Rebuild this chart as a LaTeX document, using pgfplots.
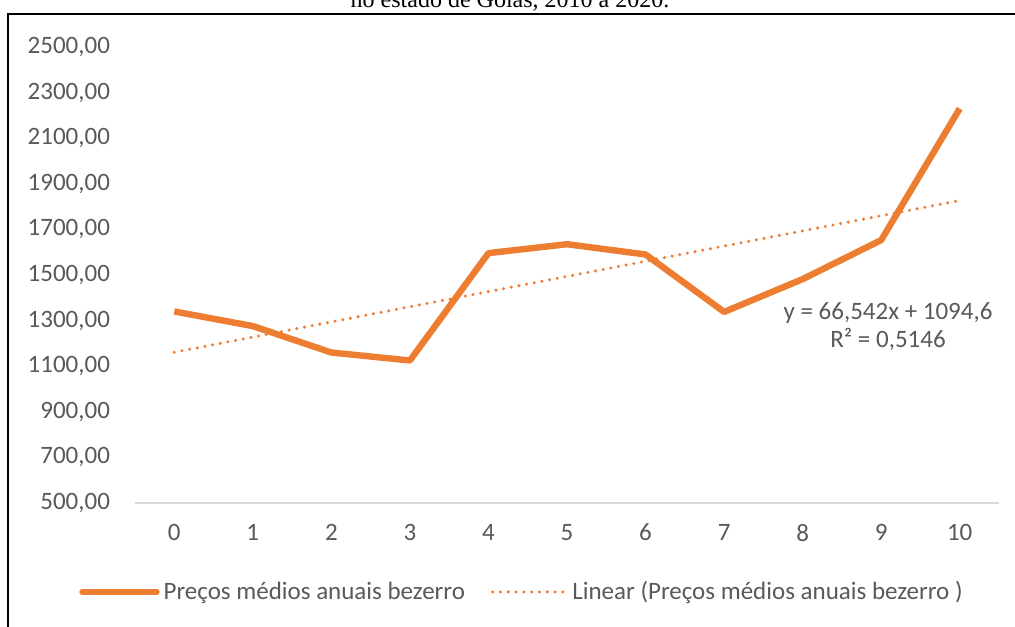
\documentclass[border=0pt]{standalone}
\usepackage{fontspec}
\setmainfont{Carlito}
\newfontfamily\timesfont{Liberation Serif}
\usepackage{pgfplots}
\pgfplotsset{compat=1.18}
\definecolor{excelorange}{HTML}{ED7D31}
\definecolor{labelgray}{HTML}{595959}
\definecolor{axisgray}{HTML}{D9D9D9}
\begin{document}
\begin{tikzpicture}
% page: 1015x626 px at 0.5pt per px
\useasboundingbox (0,0) rectangle (507.5pt,313pt);
\node[anchor=base, font=\timesfont\fontsize{12}{14}\selectfont] at (255pt,309pt) {no estado de Goiás, 2010 a 2020.};
\draw[line width=1.1pt] (4pt,-5pt) -- (4pt,306pt) -- (515pt,306pt);
\begin{axis}[
  at={(67.5pt,61.5pt)}, anchor=south west,
  scale only axis,
  width=432pt, height=228pt,
  xmin=-0.5, xmax=10.5,
  ymin=500, ymax=2500,
  xtick={0,1,2,3,4,5,6,7,8,9,10},
  ytick={500,700,900,1100,1300,1500,1700,1900,2100,2300,2500},
  axis y line*=left,
  y axis line style={draw=none},
  axis x line*=bottom,
  x axis line style={axisgray, line width=0.6pt, -},
  major tick length=0pt,
  tick label style={labelgray, font=\fontsize{12.5}{14}\selectfont},
  yticklabel style={xshift=-9pt},
  xticklabel style={yshift=-7pt},
  yticklabel={\pgfmathprintnumber[fixed,fixed zerofill,precision=2,use comma,1000 sep={},assume math mode=true]{\tick}},
  xticklabel={\pgfmathprintnumber[assume math mode=true]{\tick}},
  clip=false,
  legend columns=2,
  legend style={draw=none, fill=none, at={(0.449,-0.195)}, anchor=center,
    font=\fontsize{12.5}{14}\selectfont, text=labelgray,
    /tikz/every even column/.append style={column sep=11pt}},
  legend image code/.code={\draw[#1, line cap=round] (0pt,0pt) -- (37pt,0pt);},
]
\addplot[excelorange, line width=3.2pt, line join=round] coordinates {
  (0,1340)(1,1276)(2,1160)(3,1125)(4,1596)(5,1635)(6,1590)(7,1338)(8,1482)(9,1653)(10,2230)
};
\addlegendentry{Preços médios anuais bezerro}
\addplot[excelorange, line width=1.7pt, line cap=round, dash pattern=on 0pt off 3.9pt] coordinates {
  (0,1161.14)(10,1826.56)
};
\addlegendentry{Linear (Preços médios anuais bezerro )}
\end{axis}
\node[align=center, text=labelgray, font=\fontsize{12.5}{14}\selectfont] at (444pt,149.5pt) {y = 66,542x + 1094,6\\R² = 0,5146};
\end{tikzpicture}
\end{document}
